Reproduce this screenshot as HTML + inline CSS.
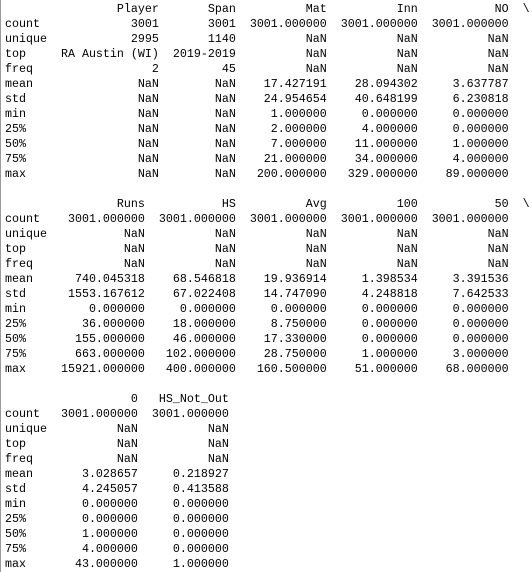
<!DOCTYPE html>
<html><head><meta charset="utf-8">
<style>
html,body{margin:0;padding:0;background:#fff;}
body{width:532px;height:572px;overflow:hidden;position:relative;}
#edge{position:absolute;left:0;top:0;width:1px;height:572px;background:#9a9a9a;}
pre{position:absolute;left:5px;top:2px;margin:0;font-family:"Liberation Mono",monospace;font-size:11.67px;line-height:15px;color:#000;}
</style></head>
<body>
<div id="edge"></div>
<pre id="out"></pre>
<script>
const idxLabels = ["count","unique","top","freq","mean","std","min","25%","50%","75%","max"];
const block1Cols = ["Player","Span","Mat","Inn","NO"];
const block1Widths = [14,9,11,11,11];
const block1Rows = [
 ["3001","3001","3001.000000","3001.000000","3001.000000"],
 ["2995","1140","NaN","NaN","NaN"],
 ["RA Austin (WI)","2019-2019","NaN","NaN","NaN"],
 ["2","45","NaN","NaN","NaN"],
 ["NaN","NaN","17.427191","28.094302","3.637787"],
 ["NaN","NaN","24.954654","40.648199","6.230818"],
 ["NaN","NaN","1.000000","0.000000","0.000000"],
 ["NaN","NaN","2.000000","4.000000","0.000000"],
 ["NaN","NaN","7.000000","11.000000","1.000000"],
 ["NaN","NaN","21.000000","34.000000","4.000000"],
 ["NaN","NaN","200.000000","329.000000","89.000000"]
];
const block2Cols = ["Runs","HS","Avg","100","50"];
const block2Widths = [12,11,11,11,11];
const block2Rows = [
 ["3001.000000","3001.000000","3001.000000","3001.000000","3001.000000"],
 ["NaN","NaN","NaN","NaN","NaN"],
 ["NaN","NaN","NaN","NaN","NaN"],
 ["NaN","NaN","NaN","NaN","NaN"],
 ["740.045318","68.546818","19.936914","1.398534","3.391536"],
 ["1553.167612","67.022408","14.747090","4.248818","7.642533"],
 ["0.000000","0.000000","0.000000","0.000000","0.000000"],
 ["36.000000","18.000000","8.750000","0.000000","0.000000"],
 ["155.000000","46.000000","17.330000","0.000000","0.000000"],
 ["663.000000","102.000000","28.750000","1.000000","3.000000"],
 ["15921.000000","400.000000","160.500000","51.000000","68.000000"]
];
const block3Cols = ["0","HS_Not_Out"];
const block3Widths = [11,11];
const block3Rows = [
 ["3001.000000","3001.000000"],
 ["NaN","NaN"],
 ["NaN","NaN"],
 ["NaN","NaN"],
 ["3.028657","0.218927"],
 ["4.245057","0.413588"],
 ["0.000000","0.000000"],
 ["0.000000","0.000000"],
 ["1.000000","0.000000"],
 ["4.000000","0.000000"],
 ["43.000000","1.000000"]
];
function block(cols, widths, rows, cont){
  let lines = [];
  let h = "      ";
  cols.forEach((c,i)=>{ h += "  " + c.padStart(widths[i]); });
  if(cont) h += "  \\";
  lines.push(h);
  rows.forEach((r,j)=>{
    let l = idxLabels[j].padEnd(6);
    r.forEach((v,i)=>{ l += "  " + v.padStart(widths[i]); });
    lines.push(l);
  });
  return lines.join("\n");
}
const txt = block(block1Cols,block1Widths,block1Rows,true) + "\n\n" +
            block(block2Cols,block2Widths,block2Rows,true) + "\n\n" +
            block(block3Cols,block3Widths,block3Rows,false);
document.getElementById("out").textContent = txt;
</script>
</body></html>
